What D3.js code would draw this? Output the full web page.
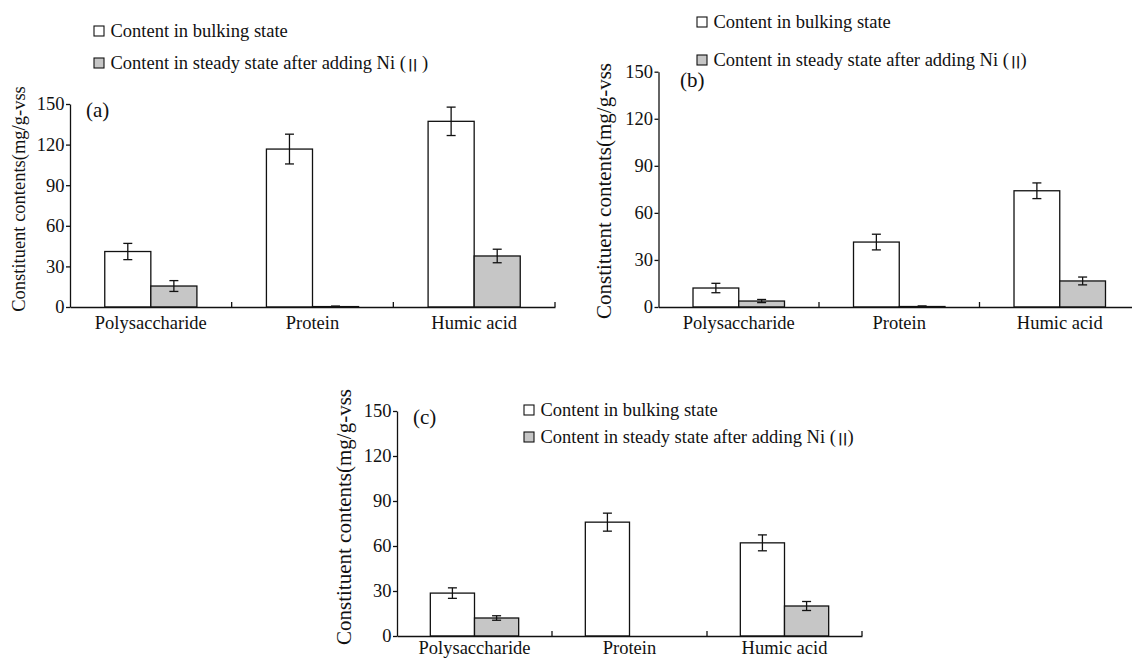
<!DOCTYPE html>
<html>
<head>
<meta charset="utf-8">
<script src="https://cdn.jsdelivr.net/npm/d3@7"></script>
<style>
  body { margin: 0; background: #fff; }
  svg text { font-family: "Liberation Serif", "Times New Roman", serif; fill: #111; }
</style>
</head>
<body>
<svg id="chart" width="1132" height="659"></svg>
<script>
// values (mg/g-vss)
const categories = ["Polysaccharide", "Protein", "Humic acid"]
const yTicks = [0, 30, 60, 90, 120, 150]
const seriesNames = ["Content in bulking state", "Content in steady state after adding Ni ("]

const bulkingA = [41, 116.7, 137.2]
const bulkingErrA = [6, 11, 10.5]
const steadyA = [15.5, 0.3, 37.7]
const steadyErrA = [4, 0.4, 5]

const bulkingB = [12.1, 41.4, 74.1]
const bulkingErrB = [3, 5, 5]
const steadyB = [3.8, 0.3, 16.6]
const steadyErrB = [1, 0.4, 2.5]

const bulkingC = [28.6, 75.9, 62.1]
const bulkingErrC = [3.5, 6, 5.3]
const steadyC = [12, 0, 20]
const steadyErrC = [1.5, 0, 3]

const GRAY = "#c6c6c6"
const SERIF = "'Liberation Serif', 'Times New Roman', serif"

const svg = d3.select("#chart")

/*
 draws one panel: axes, paired bars with error bars, letter, legend
*/
function drawPanel(p) {
  const g = svg.append("g")

  const x = d3.scaleBand().domain(categories).range([p.left, p.right])
  const y = d3.scaleLinear().domain([0, 150]).range([p.bottom, p.top])
  const barW = x.bandwidth() * 0.285
  const xs = d3.scaleBand()
    .domain(["bulking", "steady"])
    .range([x.bandwidth() / 2 - barW, x.bandwidth() / 2 + barW])

  const rows = []
  categories.forEach((c, i) => {
    rows.push({cat: c, key: "bulking", v: p.bulking[i], e: p.bulkingErr[i]})
    rows.push({cat: c, key: "steady", v: p.steady[i], e: p.steadyErr[i]})
  })

  // bars
  g.selectAll("rect.bar")
    .data(rows.filter(d => d.v > 0))
    .join("rect")
    .attr("class", "bar")
    .attr("x", d => x(d.cat) + xs(d.key))
    .attr("y", d => y(d.v))
    .attr("width", xs.bandwidth())
    .attr("height", d => y(0) - y(d.v))
    .attr("fill", d => d.key == "bulking" ? "#fff" : GRAY)
    .attr("stroke", "#111")
    .attr("stroke-width", 1.3)

  // error bars
  const errRows = rows.filter(d => d.e > 0)
  const cx = d => x(d.cat) + xs(d.key) + xs.bandwidth() / 2
  g.selectAll("line.err")
    .data(errRows)
    .join("line")
    .attr("x1", cx).attr("x2", cx)
    .attr("y1", d => y(d.v + d.e)).attr("y2", d => y(Math.max(0, d.v - d.e)))
    .attr("stroke", "#111").attr("stroke-width", 1.3)
  g.selectAll("line.capTop")
    .data(errRows)
    .join("line")
    .attr("x1", d => cx(d) - 4.5).attr("x2", d => cx(d) + 4.5)
    .attr("y1", d => y(d.v + d.e)).attr("y2", d => y(d.v + d.e))
    .attr("stroke", "#111").attr("stroke-width", 1.3)
  g.selectAll("line.capBot")
    .data(errRows)
    .join("line")
    .attr("x1", d => cx(d) - 4.5).attr("x2", d => cx(d) + 4.5)
    .attr("y1", d => y(Math.max(0, d.v - d.e))).attr("y2", d => y(Math.max(0, d.v - d.e)))
    .attr("stroke", "#111").attr("stroke-width", 1.3)

  // y axis
  const yAxis = g.append("g")
    .attr("transform", `translate(${p.left},0)`)
    .call(d3.axisLeft(y).tickValues(yTicks).tickSize(4).tickSizeOuter(0).tickPadding(1.5))
  yAxis.attr("font-family", SERIF)
  yAxis.selectAll("path, line").attr("stroke", "#111").attr("stroke-width", 1.3)
  yAxis.selectAll("text").style("font-family", SERIF).style("font-size", "18.5px").attr("fill", "#111")

  // x axis with category labels, separators point up
  const xAxis = g.append("g")
    .attr("transform", `translate(0,${p.bottom})`)
    .call(d3.axisBottom(x).tickSize(0).tickPadding(p.catPad))
  xAxis.attr("font-family", SERIF)
  xAxis.select("path").attr("stroke", "#111").attr("stroke-width", 1.3)
  xAxis.selectAll("text").style("font-family", SERIF).style("font-size", "18.5px").attr("fill", "#111")

  const seps = categories.slice(1).map(c => x(c)).concat([p.right])
  g.selectAll("line.sep")
    .data(seps)
    .join("line")
    .attr("x1", d => d).attr("x2", d => d)
    .attr("y1", p.bottom).attr("y2", p.bottom - 5)
    .attr("stroke", "#111").attr("stroke-width", 1.3)

  // y label
  g.append("text")
    .attr("transform", `translate(${p.labelX},${p.labelY}) rotate(-90)`)
    .attr("text-anchor", "middle")
    .style("font-size", p.labelSize + "px")
    .text("Constituent contents(mg/g-vss")

  // panel letter
  g.append("text")
    .attr("x", p.letterX).attr("y", p.letterY)
    .style("font-size", "21px")
    .text(p.letter)

  // legend
  const lg = g.append("g")
  seriesNames.forEach((name, i) => {
    const cy = p.legendY[i]
    lg.append("rect")
      .attr("x", p.legendX).attr("y", cy - 5)
      .attr("width", 10).attr("height", 10)
      .attr("fill", i == 0 ? "#fff" : GRAY)
      .attr("stroke", "#111").attr("stroke-width", 1.1)
    const t = lg.append("text")
      .attr("x", p.legendX + 16.5).attr("y", cy + 6)
      .style("font-size", "18.5px")
      .text(name)
    if (i == 1) {
      t.append("tspan")
        .style("font-family", "'DejaVu Sans', sans-serif")
        .style("font-weight", "bold")
        .style("font-size", "13px")
        .attr("dx", 2)
        .text("||")
      t.append("tspan").text(p.closeParen)
    }
  })
}

drawPanel({
  letter: "(a)", letterX: 86, letterY: 117,
  left: 70, right: 555, top: 104, bottom: 307, catPad: 9,
  bulking: bulkingA, bulkingErr: bulkingErrA, steady: steadyA, steadyErr: steadyErrA,
  labelX: 25, labelY: 199, labelSize: 18.5,
  legendX: 94, legendY: [31, 63], closeParen: "  )"
})

drawPanel({
  letter: "(b)", letterX: 680, letterY: 87,
  left: 658.5, right: 1140, top: 71.7, bottom: 307, catPad: 9,
  bulking: bulkingB, bulkingErr: bulkingErrB, steady: steadyB, steadyErr: steadyErrB,
  labelX: 611, labelY: 191, labelSize: 21,
  legendX: 697, legendY: [22, 60], closeParen: ")"
})

drawPanel({
  letter: "(c)", letterX: 413, letterY: 424,
  left: 397, right: 862, top: 411, bottom: 636, catPad: 5,
  bulking: bulkingC, bulkingErr: bulkingErrC, steady: steadyC, steadyErr: steadyErrC,
  labelX: 351, labelY: 517, labelSize: 21,
  legendX: 524, legendY: [410, 437], closeParen: ")"
})
</script>
</body>
</html>
